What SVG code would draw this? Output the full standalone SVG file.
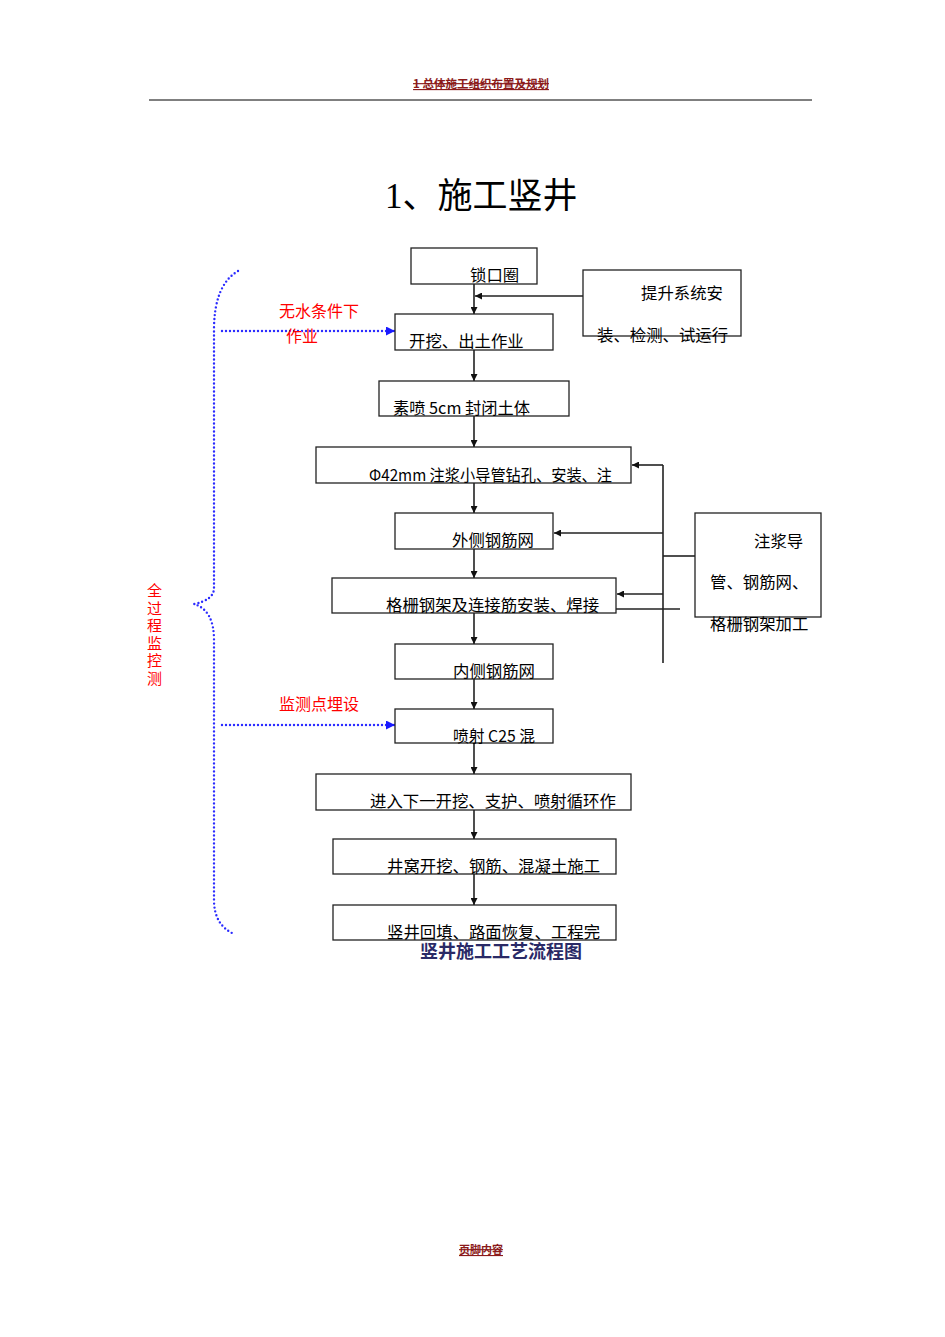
<svg xmlns="http://www.w3.org/2000/svg" width="945" height="1337" viewBox="0 0 945 1337">
<style>
.bx{fill:#fff;stroke:#222;stroke-width:1.3}
.t{font-family:"Noto Sans CJK SC","Liberation Sans",sans-serif;font-size:16.4px;fill:#000}
.r{font-family:"Noto Sans CJK SC","Liberation Sans",sans-serif;font-size:16px;fill:#f00}
.ln{stroke:#222;stroke-width:1.6;fill:none}
.dot{stroke:#2b2bff;stroke-width:2.4;fill:none;stroke-dasharray:0 4;stroke-linecap:round}
</style>
<defs>
<marker id="ah" viewBox="0 0 10 10" refX="10" refY="5" markerWidth="7" markerHeight="7" markerUnits="userSpaceOnUse" orient="auto"><path d="M0,0 L10,5 L0,10 z" fill="#111"/></marker>
<marker id="ab" viewBox="0 0 10 10" refX="10" refY="5" markerWidth="9" markerHeight="9" markerUnits="userSpaceOnUse" orient="auto"><path d="M0,0 L10,5 L0,10 z" fill="#1a1aff"/></marker>
</defs>
<rect width="945" height="1337" fill="#fff"/>
<g id="header">
<text x="481" y="88" text-anchor="middle" font-family="Noto Sans CJK SC,sans-serif" font-size="11.5" font-weight="bold" fill="#8b1a1a" text-decoration="underline line-through">1 总体施工组织布置及规划</text>
<line x1="149" y1="100" x2="812" y2="100" stroke="#000" stroke-width="1"/>
</g>
<g id="title"><text x="385" y="208" font-family="Liberation Serif,Noto Sans CJK SC,serif" font-size="35" fill="#000"><tspan font-family="Liberation Serif,serif">1</tspan><tspan font-family="Noto Sans CJK SC,sans-serif">、施工竖井</tspan></text></g>
<g id="connectors">
<line class="ln" x1="474" y1="284" x2="474" y2="314" marker-end="url(#ah)"/>
<line class="ln" x1="583" y1="296" x2="475" y2="296" marker-end="url(#ah)"/>
<line class="ln" x1="474" y1="350" x2="474" y2="381" marker-end="url(#ah)"/>
<line class="ln" x1="474" y1="416" x2="474" y2="447" marker-end="url(#ah)"/>
<line class="ln" x1="474" y1="483" x2="474" y2="513" marker-end="url(#ah)"/>
<line class="ln" x1="474" y1="549" x2="474" y2="578" marker-end="url(#ah)"/>
<line class="ln" x1="474" y1="613" x2="474" y2="644" marker-end="url(#ah)"/>
<line class="ln" x1="474" y1="679" x2="474" y2="709" marker-end="url(#ah)"/>
<line class="ln" x1="474" y1="743" x2="474" y2="774" marker-end="url(#ah)"/>
<line class="ln" x1="474" y1="810" x2="474" y2="839" marker-end="url(#ah)"/>
<line class="ln" x1="474" y1="874" x2="474" y2="905" marker-end="url(#ah)"/>
<line class="ln" x1="663" y1="465" x2="663" y2="663" stroke-width="1.3"/>
<line class="ln" x1="663" y1="465" x2="632" y2="465" marker-end="url(#ah)"/>
<line class="ln" x1="663" y1="533" x2="554" y2="533" marker-end="url(#ah)"/>
<line class="ln" x1="663" y1="556" x2="695" y2="556" stroke-width="2.4"/>
<line class="ln" x1="663" y1="594" x2="617" y2="594" marker-end="url(#ah)"/>
<line class="ln" x1="616" y1="609" x2="680" y2="609" stroke-width="1.3"/>
<path class="dot" d="M238,271 Q214,285 214,330 L214,588 Q214,600 194,604 Q214,610 214,640 L214,900 Q214,925 234,934"/>
<line class="dot" x1="222" y1="331" x2="386" y2="331"/>
<line class="dot" x1="386" y1="331" x2="395" y2="331" stroke-dasharray="none" stroke-width="1" marker-end="url(#ab)"/>
<line class="dot" x1="222" y1="725" x2="386" y2="725"/>
<line class="dot" x1="386" y1="725" x2="395" y2="725" stroke-dasharray="none" stroke-width="1" marker-end="url(#ab)"/>
</g>
<g id="n1"><rect class="bx" x="411" y="248" width="126" height="36"/><text class="t" x="470" y="281">锁口圈</text></g>
<g id="n2"><rect class="bx" x="583" y="270" width="158" height="66"/><text class="t" x="641" y="299">提升系统安</text><text class="t" x="597" y="341">装、检测、试运行</text></g>
<g id="n3"><rect class="bx" x="395" y="314" width="158" height="36"/><text class="t" x="409" y="347">开挖、出土作业</text></g>
<g id="n4"><rect class="bx" x="379" y="381" width="190" height="35"/><text class="t" x="393" y="414" textLength="137" lengthAdjust="spacingAndGlyphs">素喷 5cm 封闭土体</text></g>
<g id="n5"><rect class="bx" x="316" y="447" width="315" height="36" stroke-width="1.8"/><text class="t" x="369" y="481" textLength="243" lengthAdjust="spacingAndGlyphs">Φ42mm 注浆小导管钻孔、安装、注</text></g>
<g id="n6"><rect class="bx" x="395" y="513" width="158" height="36"/><text class="t" x="452" y="546">外侧钢筋网</text></g>
<g id="n7"><rect class="bx" x="332" y="578" width="284" height="35"/><text class="t" x="386" y="611">格栅钢架及连接筋安装、焊接</text></g>
<g id="n8"><rect class="bx" x="395" y="644" width="158" height="35"/><text class="t" x="453" y="677">内侧钢筋网</text></g>
<g id="n9"><rect class="bx" x="395" y="709" width="158" height="34"/><text class="t" x="453" y="742" textLength="82" lengthAdjust="spacingAndGlyphs">喷射 C25 混</text></g>
<g id="n10"><rect class="bx" x="316" y="774" width="315" height="36" stroke-width="1.6"/><text class="t" x="370" y="807">进入下一开挖、支护、喷射循环作</text></g>
<g id="n11"><rect class="bx" x="333" y="839" width="283" height="35"/><text class="t" x="387" y="872">井窝开挖、钢筋、混凝土施工</text></g>
<g id="n12"><rect class="bx" x="333" y="905" width="283" height="35"/><text class="t" x="387" y="938">竖井回填、路面恢复、工程完</text></g>
<g id="n13"><rect class="bx" x="695" y="513" width="126" height="104"/><text class="t" x="754" y="547">注浆导</text><text class="t" x="710" y="588">管、钢筋网、</text><text class="t" x="710" y="630">格栅钢架加工</text></g>
<g id="caption"><text x="420" y="958" font-family="Noto Sans CJK SC,sans-serif" font-size="18" font-weight="bold" fill="#2a2a66">竖井施工工艺流程图</text></g>
<g id="labels">
<text class="r" x="279" y="317">无水条件下</text>
<text class="r" x="286" y="342">作业</text>
<text class="r" x="279" y="710">监测点埋设</text>
<text x="154.5" y="583" writing-mode="tb" font-family="Noto Sans CJK SC,sans-serif" font-size="15" fill="#f00" letter-spacing="2.5">全过程监控测</text>
</g>
<g id="footer"><text x="481" y="1254" text-anchor="middle" font-family="Noto Sans CJK SC,sans-serif" font-size="11" font-weight="bold" fill="#8b1a1a" text-decoration="underline line-through">页脚内容</text></g>
</svg>
